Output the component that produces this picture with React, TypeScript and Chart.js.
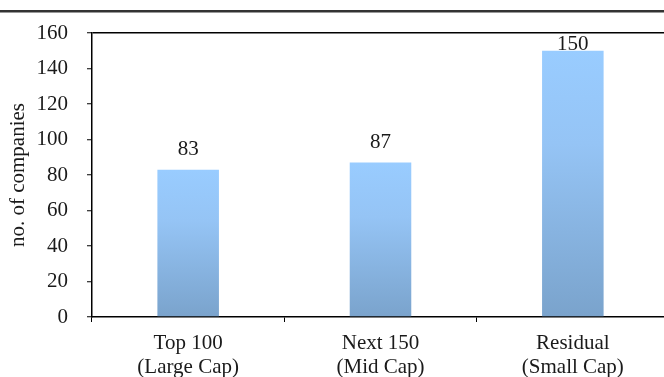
import React, { useEffect, useRef } from "react";
import { Chart, registerables } from "chart.js";

Chart.register(...registerables);

const categories: string[][] = [
  ["Top 100", "(Large Cap)"],
  ["Next 150", "(Mid Cap)"],
  ["Residual", "(Small Cap)"],
];
const companyCounts: number[] = [83, 87, 150];
const yTicks: number[] = [0, 20, 40, 60, 80, 100, 120, 140, 160];
const yAxisTitle = "no. of companies";

const FONT = "'Liberation Serif', 'Times New Roman', serif";
const TEXT = "#1a1a1a";

const topRulePlugin = {
  id: "topRule",
  beforeDraw(chart: any) {
    const { ctx, width } = chart;
    ctx.save();
    ctx.fillStyle = "#333333";
    ctx.fillRect(0, 10, width, 2.5);
    ctx.restore();
  },
};

const valueLabelPlugin = {
  id: "valueLabels",
  afterDatasetsDraw(chart: any) {
    const { ctx, chartArea } = chart;
    const meta = chart.getDatasetMeta(0);
    ctx.save();
    ctx.font = `21px ${FONT}`;
    ctx.fillStyle = TEXT;
    ctx.textAlign = "center";
    ctx.textBaseline = "middle";
    meta.data.forEach((bar: any, i: number) => {
      const y = Math.max(bar.y - 20, chartArea.top + 11);
      ctx.fillText(String(companyCounts[i]), bar.x, y);
    });
    ctx.restore();
  },
};

export default function App() {
  const canvasRef = useRef<HTMLCanvasElement | null>(null);

  useEffect(() => {
    const canvas = canvasRef.current;
    if (!canvas) return;
    const chart = new Chart(canvas, {
      type: "bar",
      data: {
        labels: categories,
        datasets: [
          {
            data: companyCounts,
            backgroundColor: (ctx: any) => {
              const c = ctx.chart;
              const ys = c.scales && c.scales.y;
              if (!ys || ctx.raw === undefined) return "#8db8e6";
              const top = ys.getPixelForValue(ctx.raw);
              const bottom = ys.getPixelForValue(0);
              if (!isFinite(top) || !isFinite(bottom) || top === bottom) return "#8db8e6";
              const g = c.ctx.createLinearGradient(0, top, 0, bottom);
              g.addColorStop(0, "#99ccff");
              g.addColorStop(0.35, "#95c4f5");
              g.addColorStop(1, "#7aa3cc");
              return g;
            },
            borderWidth: 0,
            categoryPercentage: 1,
            barPercentage: 0.32,
          },
        ],
      },
      options: {
        responsive: false,
        animation: false,
        devicePixelRatio: 1,
        layout: { padding: { top: 33, left: 0, right: 0, bottom: 0 } },
        plugins: {
          legend: { display: false },
          tooltip: { enabled: false },
        },
        scales: {
          x: {
            offset: true,
            grid: {
              offset: true,
              drawOnChartArea: false,
              drawTicks: true,
              tickLength: 5,
              tickColor: "#000000",
              tickWidth: 1,
            },
            border: { display: true, color: "#000000", width: 1.5 },
            ticks: {
              color: TEXT,
              font: { family: FONT, size: 21, lineHeight: 1.15 },
              padding: 9,
              maxRotation: 0,
              autoSkip: false,
            },
            afterFit: (scale: any) => {
              scale.height = 60;
            },
          },
          y: {
            min: 0,
            max: 160,
            afterBuildTicks: (scale: any) => {
              scale.ticks = yTicks.map((v) => ({ value: v }));
            },
            grid: {
              drawOnChartArea: true,
              drawTicks: true,
              tickLength: 5,
              color: (ctx: any) =>
                ctx.tick && ctx.tick.value === yTicks[yTicks.length - 1] ? "#000000" : "rgba(0,0,0,0)",
              lineWidth: 1.5,
              tickColor: "#000000",
              tickWidth: 1,
            },
            border: { display: true, color: "#000000", width: 1.5 },
            ticks: {
              color: TEXT,
              font: { family: FONT, size: 21 },
              padding: 19,
            },
            title: {
              display: true,
              text: yAxisTitle,
              color: TEXT,
              font: { family: FONT, size: 21, lineHeight: 1.2 },
              padding: { top: 6, bottom: 0 },
            },
            afterFit: (scale: any) => {
              scale.width = 92;
            },
          },
        },
      },
      plugins: [topRulePlugin, valueLabelPlugin],
    });
    return () => chart.destroy();
  }, []);

  return (
    <div
      style={{
        position: "fixed",
        left: 0,
        top: 0,
        width: 664,
        height: 377,
        overflow: "hidden",
        background: "#ffffff",
      }}
    >
      <canvas ref={canvasRef} width={669} height={377} style={{ display: "block" }} />
    </div>
  );
}
